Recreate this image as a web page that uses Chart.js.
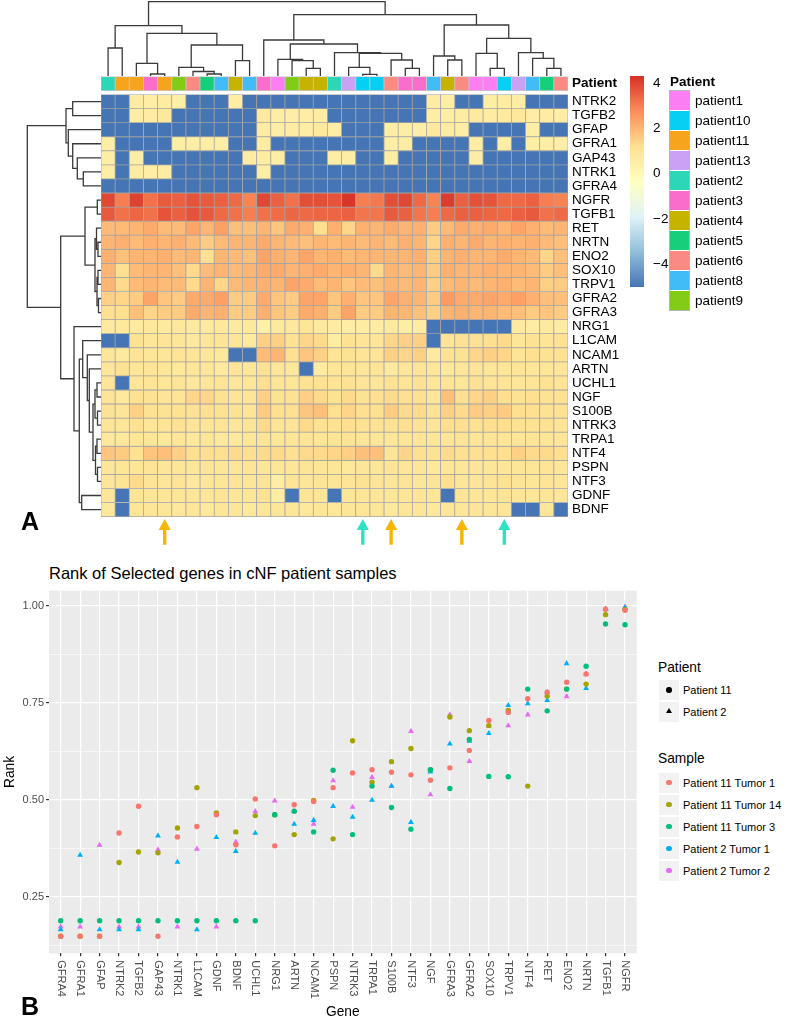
<!DOCTYPE html>
<html lang="en">
<head>
<meta charset="UTF-8">
<meta name="viewport" content="width=787, initial-scale=1.0">
<title>Selected genes in cNF samples</title>
<script src="https://cdn.jsdelivr.net/npm/chart.js"></script>
<style>
    body {
        margin: 0;
        background: #fff;
        font-family: "Liberation Sans", Arial, sans-serif;
        color: #000;
    }
    #page {
        position: relative;
        width: 787px;
        height: 1020px;
        overflow: hidden;
    }
    #page canvas, .abs {
        position: absolute;
    }
    .abs {
        white-space: nowrap;
    }
    .tag {
        font-weight: bold;
        font-size: 25px;
        line-height: 25px;
    }
</style>
</head>
<body>
<div id="page">
    <canvas id="colTree" width="467" height="76" style="left:101px;top:0px"></canvas>
    <canvas id="rowTree" width="101" height="474" style="left:0px;top:76px"></canvas>
    <canvas id="heat" width="539" height="474" style="left:101px;top:76px"></canvas>
    <canvas id="scaleBar" width="60" height="211" style="left:630px;top:76px"></canvas>
    <div id="legendA"></div>
    <div class="abs tag" style="left:21px;top:509px">A</div>

    <div class="abs" style="left:49px;top:565px;font-size:16.5px;line-height:16.5px">Rank of Selected genes in cNF patient samples</div>
    <canvas id="rank" width="650" height="440" style="left:0px;top:580px"></canvas>
    <div id="legendB"></div>
    <div class="abs tag" style="left:21px;top:994px">B</div>
</div>

<script>
    // ---------------- panel A : heatmap ----------------
    const heatGenes = ['NTRK2', 'TGFB2', 'GFAP', 'GFRA1', 'GAP43', 'NTRK1', 'GFRA4', 'NGFR', 'TGFB1', 'RET',
        'NRTN', 'ENO2', 'SOX10', 'TRPV1', 'GFRA2', 'GFRA3', 'NRG1', 'L1CAM', 'NCAM1', 'ARTN',
        'UCHL1', 'NGF', 'S100B', 'NTRK3', 'TRPA1', 'NTF4', 'PSPN', 'NTF3', 'GDNF', 'BDNF'];

    // patient of each sample column, left to right
    const colPatients = ['patient2', 'patient11', 'patient11', 'patient3', 'patient11', 'patient9', 'patient6',
        'patient5', 'patient8', 'patient4', 'patient8', 'patient3', 'patient1', 'patient9', 'patient4', 'patient4',
        'patient2', 'patient13', 'patient10', 'patient10', 'patient6', 'patient3', 'patient3', 'patient8',
        'patient4', 'patient6', 'patient1', 'patient1', 'patient10', 'patient13', 'patient8', 'patient5', 'patient6'];

    const patientNames = ['patient1', 'patient10', 'patient11', 'patient13', 'patient2', 'patient3',
        'patient4', 'patient5', 'patient6', 'patient8', 'patient9'];

    // scaled expression, one array per gene row (33 samples each)
    const ntrk2 = [-5, -5, 0.6, 0.5, 0.6, 0.4, -5, -5, -5, 0.5, -5, -5, -5, -5, -5, -5, -5, -5, -5, -5, -5, -5, -5, 0.6, 0.5, -5, -5, 0.5, 0.6, 0.5, -5, -5, -5];
    const tgfb2 = [-5, -5, 0.5, 0.6, 0.8, -5, -5, -5, -5, -5, -5, 0.7, 0.5, 0.5, 0.5, 0.6, -5, -5, -5, -5, -5, -5, -5, 0.5, 0.5, 0.6, 0.7, 0.6, 0.7, 0.8, 0.5, 0.6, 0.5];
    const gfap = [-5, -5, -5, -5, -5, -5, -5, -5, -5, -5, -5, 0.6, 0.5, 0.6, 0.5, 0.7, 0.5, -5, -5, -5, 0.5, 0.5, 0.5, 0.8, 0.6, 0.5, -5, -5, -5, -5, 0.5, -5, -5];
    const gfra1 = [0.5, -5, -5, -5, -5, 0.5, 0.5, 0.5, 0.5, -5, -5, 0.6, -5, -5, -5, -5, -5, -5, -5, -5, 0.5, 0.6, -5, -5, -5, -5, 0.5, -5, 0.5, -5, 0.5, 0.5, 0.5];
    const gap43 = [0.5, -5, 0.5, -5, -5, -5, -5, -5, -5, -5, 0.6, 0.6, 0.5, -5, -5, -5, 0.5, 0.5, -5, -5, 0.5, -5, -5, -5, -5, -5, 0.5, -5, -5, -5, -5, -5, -5];
    const ntrk1 = [0.5, -5, 0.6, 0.5, 0.6, -5, -5, -5, -5, -5, -5, 0.5, -5, -5, -5, -5, -5, -5, -5, -5, -5, -5, -5, -5, -5, -5, -5, -5, -5, -5, -5, -5, -5];
    const gfra4 = [-5, -5, -5, -5, -5, -5, -5, -5, -5, -5, -5, -5, -5, -5, -5, -5, -5, -5, -5, -5, -5, -5, -5, -5, -5, -5, -5, -5, -5, -5, -5, -5, -5];
    const ngfr = [3.9, 3.0, 4.0, 3.2, 3.6, 3.5, 3.7, 3.6, 3.5, 3.35, 2.9, 3.9, 3.5, 3.2, 3.8, 3.8, 3.7, 4.2, 3.0, 3.1, 3.8, 3.9, 3.35, 2.9, 4.1, 3.5, 3.75, 3.7, 3.35, 3.35, 3.5, 3.0, 2.9];
    const tgfb1 = [3.6, 3.2, 3.4, 3.2, 3.7, 3.5, 3.7, 3.6, 3.35, 3.2, 3.0, 3.2, 3.3, 3.4, 3.35, 3.4, 3.4, 3.5, 3.15, 3.15, 3.6, 3.5, 3.15, 3.0, 3.35, 3.5, 3.5, 3.4, 3.35, 3.5, 3.6, 3.2, 3.35];
    const ret = [1.9, 1.9, 2.0, 2.2, 1.9, 1.9, 2.3, 2.0, 2.4, 1.8, 1.8, 2.0, 1.7, 2.2, 2.1, 1.2, 2.1, 1.4, 2.1, 2.0, 2.2, 2.0, 2.1, 1.6, 1.9, 2.2, 2.1, 2.2, 2.0, 2.3, 2.1, 1.9, 2.0];
    const nrtn = [2.0, 2.1, 1.9, 2.1, 2.0, 2.1, 1.9, 1.6, 1.9, 2.0, 2.0, 2.2, 2.0, 1.9, 1.8, 2.0, 1.9, 2.0, 1.9, 2.0, 1.9, 2.1, 2.0, 1.4, 2.1, 2.0, 2.2, 2.0, 2.1, 2.0, 2.1, 1.9, 1.8];
    const eno2 = [2.1, 1.8, 2.0, 2.0, 2.1, 1.9, 2.0, 1.2, 2.0, 1.9, 1.8, 2.3, 2.1, 2.0, 2.3, 2.0, 2.1, 1.9, 2.0, 2.0, 2.0, 2.0, 2.1, 1.5, 2.0, 2.1, 2.0, 2.0, 2.2, 2.0, 1.9, 1.4, 1.8];
    const sox10 = [2.0, 1.2, 1.9, 2.0, 2.0, 1.8, 1.3, 1.9, 2.0, 1.9, 2.0, 2.2, 2.2, 2.0, 2.1, 2.2, 2.0, 2.1, 2.0, 1.3, 2.0, 1.9, 2.0, 1.6, 2.1, 2.0, 2.0, 2.1, 2.0, 2.0, 1.9, 1.6, 1.8];
    const trpv1 = [2.0, 1.3, 1.9, 2.0, 1.9, 1.9, 1.3, 2.0, 1.4, 1.9, 2.0, 2.1, 2.0, 2.3, 2.2, 1.9, 2.0, 1.7, 1.9, 1.8, 2.0, 1.9, 2.0, 1.5, 1.9, 2.0, 1.9, 2.0, 2.1, 1.9, 2.0, 1.5, 1.6];
    const gfra2 = [1.5, 1.4, 1.6, 2.3, 1.7, 1.6, 2.2, 2.2, 2.4, 1.6, 1.6, 2.2, 1.7, 1.6, 2.3, 2.3, 1.7, 2.1, 1.7, 1.7, 2.3, 2.1, 2.0, 1.6, 2.5, 2.2, 2.2, 2.3, 2.2, 2.4, 2.1, 1.8, 1.8];
    const gfra3 = [1.2, 1.2, 1.8, 1.4, 1.6, 1.6, 2.2, 2.0, 2.1, 1.6, 1.6, 2.1, 1.7, 1.6, 2.2, 2.1, 1.6, 2.3, 1.6, 1.6, 2.0, 2.0, 1.8, 1.5, 2.0, 2.1, 2.0, 2.0, 1.9, 1.8, 1.6, 1.7, 1.6];
    const nrg1 = [0.7, 0.8, 0.7, 0.8, 0.7, 0.8, 0.7, 0.7, 0.8, 0.7, 0.8, 0.4, 0.7, 0.8, 0.9, 0.7, 0.6, 0.5, 0.6, 0.6, 0.7, 0.5, 0.6, -5, -5, -5, -5, -5, -5, 0.7, 0.6, 0.7, 0.6];
    const l1cam = [-5, -5, 1.1, 0.9, 1.0, 0.9, 0.8, 0.9, 1.0, 0.9, 0.7, 1.5, 1.5, 1.1, 1.4, 1.3, 0.6, 1.1, 1.0, 0.9, 1.4, 1.5, 1.5, -5, 1.0, 1.1, 1.1, 1.2, 1.3, 0.9, 1.1, 1.0, 1.1];
    const ncam1 = [0.9, 0.7, 1.0, 0.9, 0.9, 1.0, 1.0, 0.9, 0.8, -5, -5, 1.9, 2.0, 1.2, 1.7, 1.5, 1.0, 1.1, 1.0, 1.0, 1.5, 1.4, 1.5, 0.7, 1.1, 1.1, 1.4, 1.5, 1.4, 1.0, 1.2, 1.1, 1.1];
    const artn = [0.9, 1.1, 0.9, 1.0, 0.9, 0.8, 0.9, 0.9, 0.7, 1.0, 0.9, 1.1, 0.9, 0.8, -5, 0.6, 0.9, 1.0, 0.9, 1.0, 0.7, 0.9, 1.0, 0.9, 0.8, 0.9, 1.0, 0.9, 0.9, 1.0, 0.9, 0.9, 0.9];
    const uchl1 = [1.0, -5, 0.9, 1.0, 0.9, 1.0, 0.8, 0.9, 1.0, 0.9, 0.9, 1.2, 1.0, 0.9, 1.1, 1.1, 1.0, 1.1, 1.0, 0.9, 1.1, 1.0, 1.1, 0.9, 1.0, 0.9, 1.1, 1.0, 1.0, 0.9, 1.0, 1.1, 1.0];
    const ngf = [1.0, 0.8, 1.1, 1.1, 1.0, 1.0, 1.4, 1.4, 1.1, 1.0, 1.0, 1.5, 1.1, 1.1, 1.5, 1.3, 1.1, 1.3, 1.1, 1.2, 1.3, 1.2, 1.2, 0.9, 1.8, 1.2, 1.4, 1.5, 1.2, 1.1, 1.2, 1.1, 1.1];
    const s100b = [1.1, 1.0, 1.5, 1.1, 1.1, 1.1, 1.1, 1.2, 1.1, 1.1, 1.0, 1.6, 1.2, 1.2, 1.7, 1.8, 1.2, 1.4, 1.2, 1.2, 1.6, 1.3, 1.3, 1.1, 1.5, 1.3, 1.6, 1.5, 1.6, 1.2, 1.2, 1.1, 1.1];
    const ntrk3 = [1.0, 0.9, 1.1, 0.9, 1.0, 1.1, 1.0, 0.9, 1.0, 0.9, 1.0, 1.3, 1.0, 1.0, 1.3, 1.1, 1.1, 1.2, 1.1, 1.1, 1.1, 1.2, 1.1, 1.0, 1.2, 1.2, 1.1, 1.2, 1.2, 1.1, 1.1, 1.1, 1.0];
    const trpa1 = [0.8, 0.8, 0.9, 0.9, 0.8, 0.9, 0.8, 0.9, 0.8, 0.8, 0.9, 1.0, 0.9, 0.9, 1.0, 0.9, 1.0, 1.0, 0.9, 0.9, 0.9, 0.9, 1.0, 0.9, 0.9, 1.0, 0.9, 1.0, 0.9, 0.9, 1.0, 0.9, 0.9];
    const ntf4 = [1.7, 1.6, 1.1, 1.7, 1.8, 1.5, 1.2, 1.2, 1.2, 1.3, 1.2, 1.3, 1.3, 1.2, 1.3, 1.3, 1.4, 1.5, 1.8, 1.8, 1.0, 1.4, 1.2, 1.1, 1.3, 1.2, 1.2, 1.2, 1.2, 1.5, 1.3, 1.3, 1.2];
    const pspn = [0.9, 0.9, 0.9, 1.0, 0.9, 0.9, 0.9, 1.0, 0.9, 0.9, 1.0, 0.9, 0.9, 0.9, 1.0, 0.9, 0.9, 0.8, 0.9, 0.9, 1.0, 0.9, 0.9, 0.8, 0.9, 0.9, 0.9, 0.9, 0.9, 0.9, 0.9, 1.0, 0.9];
    const ntf3 = [0.9, 1.0, 1.3, 1.0, 0.9, 1.0, 0.8, 0.9, 0.9, 1.0, 0.9, 1.0, 0.5, 1.0, 0.9, 1.0, 0.9, 1.0, 1.1, 1.0, 0.9, 1.0, 0.9, 1.0, 1.2, 0.9, 0.9, 1.0, 1.1, 1.0, 0.9, 1.0, 0.9];
    const gdnf = [0.9, -5, 1.0, 0.9, 0.9, 0.9, 0.9, 0.9, 1.0, 0.9, 0.9, 1.1, 0.6, -5, 1.0, 0.9, -5, 0.9, 0.9, 0.9, 0.9, 0.9, 1.0, 0.9, -5, 1.0, 0.9, 0.9, 1.0, 0.9, 0.9, 0.9, 0.9];
    const bdnf = [0.8, -5, 0.9, 0.9, 0.9, 0.8, 0.9, 0.8, 0.9, 0.9, 0.8, 0.9, 0.9, 0.9, 0.8, 0.9, 0.8, 0.9, 0.9, 0.9, 0.8, 0.9, 0.9, 0.8, 0.9, 0.9, 0.9, 0.9, 0.9, -5, -5, 0.9, -5];

    const heatRows = [ntrk2, tgfb2, gfap, gfra1, gap43, ntrk1, gfra4, ngfr, tgfb1, ret, nrtn, eno2, sox10, trpv1,
        gfra2, gfra3, nrg1, l1cam, ncam1, artn, uchl1, ngf, s100b, ntrk3, trpa1, ntf4, pspn, ntf3, gdnf, bdnf];

    const heatMin = -5.0, heatMax = 4.3;
    const scaleTicks = [-4, -2, 0, 2, 4];

    // clustering trees: [height, left, right], leaves are column / row indexes
    const colTree = [74.3,
        [50.3, [28, 0, 1], [42.7, [12.7, 2, [2, 3, 4]], [31, [8.7, 5, [4.5, 6, [2, 7, 8]]], [15.3, 9, 10]]]],
        [61.3,
            [36, 11, [32, [16.7, 12, [15.3, 13, [7.7, 14, 15]]], [23.3, 16, [22.7, [8.7, 17, [1.7, 18, 19]], [16, 20, [7.7, 21, 22]]]]]],
            [51, [20, 23, [16, 24, 25]], [37.7, [22.7, 26, [7.7, 27, 28]], [23.3, 29, [17.7, 30, [7.7, 31, 32]]]]]]];
    const rowTree = [73.7,
        [35, [28.3, 0, 1], [32.7, 2, [28.3, 3, [23.7, 4, [17.7, 5, 6]]]]],
        [40.3,
            [16, [3.7, 7, 8], [6, [4.5, 9, [3, 10, 11]], [4, [3, 12, 13], [2.5, 14, 15]]]],
            [27, 16, [21.7, [18.3, 17, [13.7, 18, [11.7, 19, [8, [6, [4, 20, 21], [3.5, 22, 23]], [5.5, [4, 24, 25], [3.5, 26, 27]]]]]], [19.3, 28, 29]]]]];

    // marked samples (column index) and which patient colour the arrow has
    const arrowCols = [4, 18, 20, 25, 28];
    const arrowKinds = ['p11', 'p2', 'p11', 'p11', 'p2'];

    // ---------------- panel B : rank scatter ----------------
    const rankGenes = ['GFRA4', 'GFRA1', 'GFAP', 'NTRK2', 'TGFB2', 'GAP43', 'NTRK1', 'L1CAM', 'GDNF', 'BDNF',
        'UCHL1', 'NRG1', 'ARTN', 'NCAM1', 'PSPN', 'NTRK3', 'TRPA1', 'S100B', 'NTF3', 'NGF',
        'GFRA3', 'GFRA2', 'SOX10', 'TRPV1', 'NTF4', 'RET', 'ENO2', 'NRTN', 'TGFB1', 'NGFR'];
    const p11Tumor1 = [0.148, 0.148, 0.148, 0.414, 0.483, 0.148, 0.404, 0.431, 0.461, 0.384, 0.502, 0.381, 0.487, 0.495, 0.531,
        0.569, 0.577, 0.571, 0.564, 0.550, 0.582, 0.627, 0.704, 0.725, 0.760, 0.777, 0.803, 0.824, 0.991, 0.988];
    const p11Tumor14 = [0.148, 0.148, 0.148, 0.338, 0.365, 0.363, 0.427, 0.531, 0.466, 0.417, 0.459, 0.461, 0.410, 0.498, 0.399,
        0.652, 0.545, 0.598, 0.632, 0.577, 0.713, 0.678, 0.691, 0.730, 0.535, 0.767, 0.785, 0.798, 0.977, 0.990];
    const p11Tumor3 = [0.188, 0.188, 0.188, 0.188, 0.188, 0.188, 0.188, 0.188, 0.188, 0.188, 0.188, 0.461, 0.470, 0.417, 0.576,
        0.410, 0.535, 0.480, 0.424, 0.577, 0.529, 0.655, 0.560, 0.559, 0.785, 0.729, 0.785, 0.844, 0.953, 0.951];
    const p2Tumor1 = [0.165, 0.357, 0.165, 0.165, 0.165, 0.407, 0.339, 0.165, 0.403, 0.367, 0.414, 0.461, 0.437, 0.447, 0.483,
        0.455, 0.499, 0.535, 0.442, 0.572, 0.644, 0.651, 0.671, 0.743, 0.748, 0.756, 0.851, 0.787, 0.991, 0.995];
    const p2Tumor2 = [0.172, 0.172, 0.383, 0.172, 0.172, 0.371, 0.172, 0.373, 0.172, 0.391, 0.470, 0.497, 0.470, 0.437, 0.549,
        0.481, 0.558, 0.535, 0.676, 0.513, 0.719, 0.599, 0.690, 0.691, 0.719, 0.777, 0.766, 0.824, 0.991, 0.997];

    // ---------------- styles ----------------
    const FONT = '"Liberation Sans", Arial, sans-serif';
    Chart.defaults.font.family = FONT;
    Chart.defaults.color = '#000';

    const patientColors = {
        patient1: '#fb7ef3', patient10: '#05cff3', patient11: '#f6a41e', patient13: '#c9a1f5',
        patient2: '#2dd6b6', patient3: '#fb6dcb', patient4: '#c6b300', patient5: '#16cf7b',
        patient6: '#f98b83', patient8: '#42bcf6', patient9: '#82cb16'
    };
    const arrowColors = { p11: '#f7b500', p2: '#2ee3c3' };
    const brewerRdYlBu = ['#4575b4', '#91bfdb', '#e0f3f8', '#ffffbf', '#fee090', '#fc8d59', '#d73027'];

    const sampleSeries = [
        { label: 'Patient 11 Tumor 1', values: p11Tumor1, color: '#f8766d', shape: 'circle' },
        { label: 'Patient 11 Tumor 3', values: p11Tumor3, color: '#00bf7d', shape: 'circle' },
        { label: 'Patient 11 Tumor 14', values: p11Tumor14, color: '#a3a500', shape: 'circle' },
        { label: 'Patient 2 Tumor 1', values: p2Tumor1, color: '#00b0f6', shape: 'triangle' },
        { label: 'Patient 2 Tumor 2', values: p2Tumor2, color: '#e76bf3', shape: 'triangle' }
    ];
    const legendOrder = ['Patient 11 Tumor 1', 'Patient 11 Tumor 14', 'Patient 11 Tumor 3', 'Patient 2 Tumor 1', 'Patient 2 Tumor 2'];

    // vertical value range shared by heatmap and row tree (row r sits in [29-r, 30-r])
    const yLo = -2.374, yHi = 31.315;

    function hexRgb(h) {
        return [1, 3, 5].map(i => parseInt(h.slice(i, i + 2), 16));
    }
    function heatColor(v) {
        const t = Math.min(1, Math.max(0, (v - heatMin) / (heatMax - heatMin))) * 6;
        const i = Math.min(5, Math.floor(t)), f = t - i;
        const a = hexRgb(brewerRdYlBu[i]), b = hexRgb(brewerRdYlBu[i + 1]);
        const c = a.map((x, k) => Math.round(x + (b[k] - x) * f));
        return `rgb(${c[0]},${c[1]},${c[2]})`;
    }

    // walk a tree and emit the elbow segments, separated by gaps
    function treeSegments(tree, leafPos) {
        const pts = [];
        function walk(node) {
            if (typeof node === 'number') return { p: leafPos(node), h: 0 };
            const [h, l, r] = node;
            const a = walk(l), b = walk(r);
            pts.push({ p: a.p, h: a.h }, { p: a.p, h: h }, { p: b.p, h: h }, { p: b.p, h: b.h }, null);
            return { p: (a.p + b.p) / 2, h: h };
        }
        walk(tree);
        return pts;
    }

    const baseOpts = {
        responsive: false,
        animation: false,
        events: [],
        layout: { padding: 0 },
        plugins: { legend: { display: false }, tooltip: { enabled: false } }
    };

    const treeLine = { showLine: true, spanGaps: false, pointRadius: 0, borderColor: '#3a3a3a', borderWidth: 1.3, clip: false };

    // column dendrogram
    new Chart(document.getElementById('colTree'), {
        type: 'scatter',
        data: {
            datasets: [Object.assign({
                data: treeSegments(colTree, i => i + 0.5).map(q => q ? { x: q.p, y: q.h } : { x: null, y: null })
            }, treeLine)]
        },
        options: Object.assign({}, baseOpts, {
            scales: {
                x: { type: 'linear', display: false, min: 0, max: 33 },
                y: { type: 'linear', display: false, min: 0, max: 76 }
            }
        })
    });

    // row dendrogram
    new Chart(document.getElementById('rowTree'), {
        type: 'scatter',
        data: {
            datasets: [Object.assign({
                data: treeSegments(rowTree, i => 29.5 - i).map(q => q ? { x: q.h, y: q.p } : { x: null, y: null })
            }, treeLine)]
        },
        options: Object.assign({}, baseOpts, {
            scales: {
                x: { type: 'linear', display: false, min: 0, max: 101, reverse: true },
                y: { type: 'linear', display: false, min: yLo, max: yHi }
            }
        })
    });

    // arrows under the marked samples
    const arrowPlugin = {
        id: 'arrows',
        afterDatasetsDraw(chart) {
            const { ctx, scales: { x, y } } = chart;
            arrowCols.forEach((c, k) => {
                const px = x.getPixelForValue(c);
                const tip = y.getPixelForValue(-0.17);
                const neck = y.getPixelForValue(-0.95);
                const tail = y.getPixelForValue(-2.0);
                ctx.save();
                ctx.fillStyle = arrowColors[arrowKinds[k]];
                ctx.beginPath();
                ctx.moveTo(px, tip);
                ctx.lineTo(px + 6, neck);
                ctx.lineTo(px + 1.7, neck);
                ctx.lineTo(px + 1.7, tail);
                ctx.lineTo(px - 1.7, tail);
                ctx.lineTo(px - 1.7, neck);
                ctx.lineTo(px - 6, neck);
                ctx.closePath();
                ctx.fill();
                ctx.restore();
            });
        }
    };

    const cellStyle = {
        borderColor: '#a3a3a3', borderWidth: 0.75, borderSkipped: false,
        grouped: false, barPercentage: 1, categoryPercentage: 1
    };

    const heatSets = heatRows.map((vals, r) => Object.assign({
        label: heatGenes[r],
        data: vals.map(() => [29 - r, 30 - r]),
        backgroundColor: vals.map(heatColor)
    }, cellStyle));
    heatSets.push(Object.assign({
        label: 'Patient',
        data: colPatients.map(() => [30.28, 31.28]),
        backgroundColor: colPatients.map(p => patientColors[p])
    }, cellStyle, { borderColor: '#c8c8c8' }));

    new Chart(document.getElementById('heat'), {
        type: 'bar',
        data: { labels: colPatients, datasets: heatSets },
        options: Object.assign({}, baseOpts, {
            scales: {
                x: { display: false, offset: true },
                y: {
                    type: 'linear', position: 'right', min: yLo, max: yHi,
                    afterBuildTicks: s => {
                        s.ticks = [{ value: 30.78 }].concat(heatGenes.map((g, i) => ({ value: 29.5 - i })));
                    },
                    ticks: {
                        autoSkip: false, padding: 4, color: '#000',
                        callback: (v, i) => i === 0 ? 'Patient' : heatGenes[i - 1],
                        font: c => ({ family: FONT, size: 13.5, weight: c.index === 0 ? 'bold' : 'normal' })
                    },
                    grid: { display: false, drawTicks: false },
                    border: { display: false },
                    afterFit: s => { s.width = 72; s.paddingTop = 0; s.paddingBottom = 0; }
                }
            }
        }),
        plugins: [arrowPlugin]
    });

    // colour key
    new Chart(document.getElementById('scaleBar'), {
        type: 'bar',
        data: {
            labels: [''],
            datasets: [{
                data: [[heatMin, heatMax]],
                barPercentage: 1, categoryPercentage: 1, borderWidth: 0,
                backgroundColor: c => {
                    const area = c.chart.chartArea;
                    if (!area) return '#ffffbf';
                    const g = c.chart.ctx.createLinearGradient(0, area.bottom, 0, area.top);
                    brewerRdYlBu.forEach((col, i) => g.addColorStop(i / 6, col));
                    return g;
                }
            }]
        },
        options: Object.assign({}, baseOpts, {
            scales: {
                x: { display: false, offset: true },
                y: {
                    type: 'linear', position: 'right', min: heatMin, max: heatMax,
                    afterBuildTicks: s => { s.ticks = scaleTicks.map(v => ({ value: v })); },
                    ticks: {
                        autoSkip: false, padding: 9, color: '#000', font: { family: FONT, size: 13.5 },
                        callback: v => v < 0 ? '\u2212' + (-v) : String(v)
                    },
                    grid: { display: false, drawTicks: false },
                    border: { display: false },
                    afterFit: s => { s.width = 46; s.paddingTop = 0; s.paddingBottom = 0; }
                }
            }
        })
    });

    // patient legend (panel A)
    (function () {
        const box = document.getElementById('legendA');
        let html = '<div class="abs" style="left:670px;top:75px;font-weight:bold;font-size:13.5px;line-height:13.5px">Patient</div>';
        html += `<div class="abs" style="left:669px;top:90px;width:21px;height:${patientNames.length * 20 + 1}px;border:1px solid #b4b4b4;box-sizing:border-box"></div>`;
        patientNames.forEach((p, i) => {
            const top = 91 + i * 20;
            html += `<div class="abs" style="left:670px;top:${top}px;width:19px;height:19px;background:${patientColors[p]}"></div>`;
            html += `<div class="abs" style="left:695px;top:${top}px;font-size:13.5px;line-height:20px">${p}</div>`;
        });
        box.innerHTML = html;
    })();

    // ---------------- panel B chart ----------------
    const panelBg = {
        id: 'panelBg',
        beforeDraw(chart) {
            const { ctx, chartArea: a } = chart;
            ctx.save();
            ctx.fillStyle = '#ebebeb';
            ctx.fillRect(a.left, a.top, a.right - a.left, a.bottom - a.top);
            ctx.restore();
        }
    };
    const geneLabels = {
        id: 'geneLabels',
        afterDraw(chart) {
            const { ctx, chartArea, scales: { x } } = chart;
            ctx.save();
            ctx.font = '11px ' + FONT;
            ctx.fillStyle = '#4d4d4d';
            ctx.textAlign = 'left';
            ctx.textBaseline = 'middle';
            rankGenes.forEach((g, i) => {
                ctx.save();
                ctx.translate(x.getPixelForValue(i), chartArea.bottom + 7);
                ctx.rotate(Math.PI / 2);
                ctx.fillText(g, 0, 0);
                ctx.restore();
            });
            ctx.restore();
        }
    };
    const isMinor = v => Math.round(v * 8) % 2 === 1;

    new Chart(document.getElementById('rank'), {
        type: 'scatter',
        data: {
            datasets: sampleSeries.map(s => ({
                label: s.label,
                data: s.values.map((v, i) => ({ x: i, y: v })),
                pointStyle: s.shape,
                pointRadius: s.shape === 'triangle' ? 3.4 : 2.7,
                pointBackgroundColor: s.color,
                pointBorderWidth: 0,
                clip: false
            }))
        },
        options: Object.assign({}, baseOpts, {
            layout: { padding: { top: 10.7, right: 13.3, left: 0, bottom: 0 } },
            scales: {
                x: {
                    type: 'linear', min: -0.6, max: 29.6,
                    afterBuildTicks: s => { s.ticks = rankGenes.map((g, i) => ({ value: i })); },
                    ticks: { display: false },
                    grid: { color: '#fff', lineWidth: 1.2, tickColor: '#333', tickLength: 3 },
                    border: { display: false },
                    title: { display: true, text: 'Gene', color: '#000', font: { family: FONT, size: 13.75 }, padding: { top: 0, bottom: 0 } },
                    afterFit: s => { s.height = 66.7; }
                },
                y: {
                    type: 'linear', min: 0.104, max: 1.0387,
                    afterBuildTicks: s => { s.ticks = [0.125, 0.25, 0.375, 0.5, 0.625, 0.75, 0.875, 1].map(v => ({ value: v })); },
                    ticks: {
                        autoSkip: false, padding: 2, color: '#4d4d4d', font: { family: FONT, size: 11 },
                        callback: v => isMinor(v) ? '' : v.toFixed(2)
                    },
                    grid: {
                        color: '#fff', tickLength: 3,
                        lineWidth: c => isMinor(c.tick.value) ? 0.6 : 1.2,
                        tickColor: c => isMinor(c.tick.value) ? 'rgba(0,0,0,0)' : '#333'
                    },
                    border: { display: false },
                    title: { display: true, text: 'Rank', color: '#000', font: { family: FONT, size: 13.75 }, padding: { top: 2.3, bottom: 0 } },
                    afterFit: s => { s.width = 49; }
                }
            }
        }),
        plugins: [panelBg, geneLabels]
    });

    // legends (panel B)
    (function () {
        const box = document.getElementById('legendB');
        const keyBox = top => `<div class="abs" style="left:659px;top:${top}px;width:20px;height:20px;background:#f2f2f2"></div>`;
        const label = (top, text) => `<div class="abs" style="left:683px;top:${top}px;font-size:11px;line-height:20px">${text}</div>`;
        const dot = (top, col) => `<div class="abs" style="left:666.3px;top:${top + 7.3}px;width:5.4px;height:5.4px;border-radius:50%;background:${col}"></div>`;
        const tri = (top, col) => `<div class="abs" style="left:665.8px;top:${top + 6.5}px;width:0;height:0;border-left:3.2px solid transparent;border-right:3.2px solid transparent;border-bottom:5.6px solid ${col}"></div>`;
        let html = '<div class="abs" style="left:658px;top:660px;font-size:13.75px;line-height:16px">Patient</div>';
        [['Patient 11', 'circle'], ['Patient 2', 'triangle']].forEach(([name, shape], i) => {
            const top = 680 + i * 21.7;
            html += keyBox(top) + (shape === 'circle' ? dot(top, '#000') : tri(top, '#000')) + label(top, name);
        });
        html += '<div class="abs" style="left:658px;top:751px;font-size:13.75px;line-height:16px">Sample</div>';
        legendOrder.forEach((name, i) => {
            const s = sampleSeries.find(q => q.label === name);
            const top = 772.7 + i * 22;
            html += keyBox(top) + dot(top, s.color) + label(top, name);
        });
        box.innerHTML = html;
    })();
</script>
</body>
</html>
